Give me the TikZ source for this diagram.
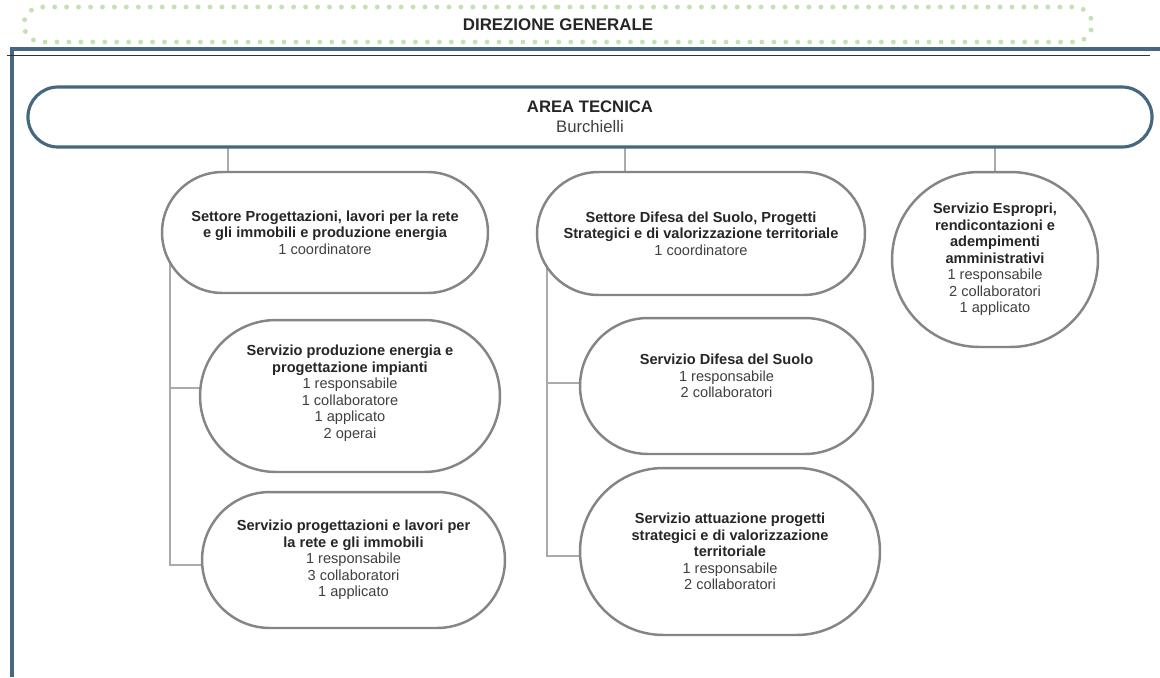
\documentclass[tikz,border=0pt]{standalone}
\usepackage{fontspec}
\setmainfont{Liberation Sans}
\usetikzlibrary{shapes.misc,backgrounds}

\definecolor{areablue}{HTML}{45677F}
\definecolor{boxgray}{HTML}{858585}
\definecolor{linegray}{HTML}{AAAAAA}
\definecolor{dotgreen}{HTML}{C3E2B4}
\definecolor{titletext}{HTML}{262626}
\definecolor{plaintext}{HTML}{404040}

\newcommand{\titolo}[1]{{\bfseries\color{titletext}#1}}

\begin{document}
\begin{tikzpicture}[x=0.02cm,y=-0.02cm,
    ufficio/.style={rounded rectangle, draw=boxgray, line width=1.4pt, fill=white,
        align=center, inner sep=0pt, text=plaintext,
        font=\fontsize{8.3}{9.4}\selectfont},
    conn/.style={draw=linegray, line width=0.8pt}]
\useasboundingbox (0,0) rectangle (1160,677);

% cornice
\draw[areablue, line width=2pt] (12,677) -- (12,49) -- (1160,49);
\draw[black!80, line width=0.5pt] (7,55) -- (1150,55);

\node[rounded rectangle, draw=dotgreen, line width=2.8pt, line cap=round,
      dash pattern=on 0pt off 6.8pt, minimum width=21.6cm, minimum height=0.7cm,
      font=\fontsize{9.6}{11}\selectfont] (dirgen) at (558,24.5)
      {\titolo{DIREZIONE GENERALE}};

\node[rounded rectangle, draw=areablue, line width=1.8pt, fill=white, align=center,
      minimum width=22.72cm, minimum height=1.2cm, text=plaintext,
      font=\fontsize{9.5}{11.3}\selectfont] (area) at (590,117)
      {\titolo{AREA TECNICA}\\Burchielli};

% settori e servizi
\node[ufficio, minimum width=6.52cm, minimum height=2.42cm] (setprog) at (325,232.5)
    {\titolo{Settore Progettazioni, lavori per la rete}\\
     \titolo{e gli immobili e produzione energia}\\1 coordinatore};
\node[ufficio, minimum width=6.0cm, minimum height=3.04cm, text depth=0.18cm] (servenergia) at (350,396)
    {\titolo{Servizio produzione energia e}\\\titolo{progettazione impianti}\\
     1 responsabile\\1 collaboratore\\1 applicato\\2 operai};
\node[ufficio, minimum width=6.06cm, minimum height=2.72cm] (servlavori) at (353.5,560)
    {\titolo{Servizio progettazioni e lavori per}\\\titolo{la rete e gli immobili}\\
     1 responsabile\\3 collaboratori\\1 applicato};

\node[ufficio, minimum width=6.56cm, minimum height=2.46cm] (setdifesa) at (701,233.5)
    {\titolo{Settore Difesa del Suolo, Progetti}\\
     \titolo{Strategici e di valorizzazione territoriale}\\1 coordinatore};
\node[ufficio, minimum width=5.86cm, minimum height=2.72cm, text depth=0.4cm] (servsuolo) at (726.5,386)
    {\titolo{Servizio Difesa del Suolo}\\1 responsabile\\2 collaboratori};
\node[ufficio, minimum width=6.0cm, minimum height=3.34cm] (servattua) at (730,551.5)
    {\titolo{Servizio attuazione progetti}\\\titolo{strategici e di valorizzazione}\\
     \titolo{territoriale}\\1 responsabile\\2 collaboratori};

\node[ufficio, minimum width=4.12cm, minimum height=3.5cm] (espropri) at (995,259.5)
    {\titolo{Servizio Espropri,}\\\titolo{rendicontazioni e}\\\titolo{adempimenti}\\
     \titolo{amministrativi}\\1 responsabile\\2 collaboratori\\1 applicato};

% collegamenti
\begin{pgfonlayer}{background}
\draw[conn] (area.center -| 228,0) -- (setprog.center -| 228,0);
\draw[conn] (area.center -| 625,0) -- (setdifesa.center -| 625,0);
\draw[conn] (area.center -| espropri.center) -- (espropri.center);

\draw[conn] (setprog.center -| 170,0) |- ([yshift=-0.1cm]servlavori.center);
\draw[conn] ([yshift=0.16cm]servenergia.center) -- ([yshift=0.16cm]servenergia.center -| 170,0);

\draw[conn] (setdifesa.center -| 547,0) |- ([yshift=-0.09cm]servattua.center);
\draw[conn] ([yshift=0.06cm]servsuolo.center) -- ([yshift=0.06cm]servsuolo.center -| 547,0);
\end{pgfonlayer}
\end{tikzpicture}
\end{document}
